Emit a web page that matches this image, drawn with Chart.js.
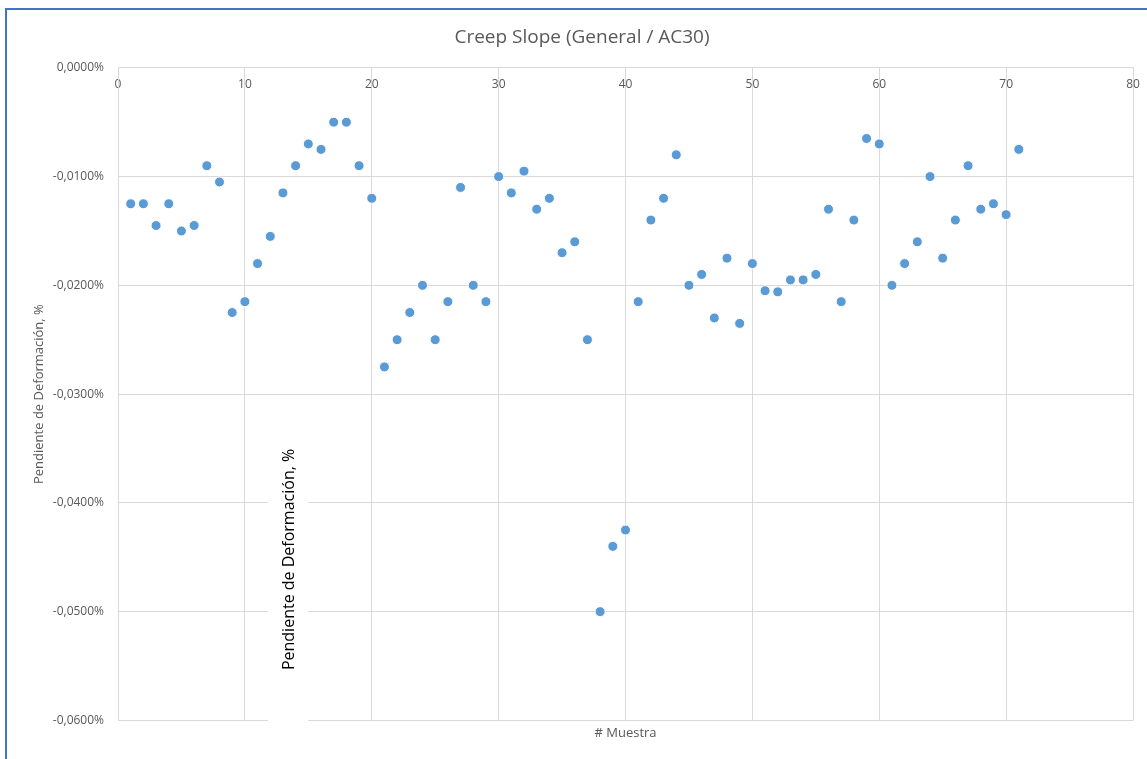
<!DOCTYPE html>
<html lang="es">
<head>
    <meta charset="UTF-8">
    <title>Creep Slope (General / AC30)</title>
    <script src="https://cdn.jsdelivr.net/npm/chart.js"></script>
    <style>
        body {
            margin: 0;
            padding: 0;
            background: #ffffff;
            overflow: hidden;
        }

        .wrap {
            position: relative;
            width: 1147px;
            height: 759px;
        }

        .frame {
            position: absolute;
            left: 5px;
            top: 8px;
            width: 1200px;
            height: 800px;
            border-left: 2px solid #4472c4;
            border-top: 2px solid #4472c4;
            pointer-events: none;
        }
    </style>
</head>
<body>
    <div class="wrap">
        <canvas id="creepChart" width="1147" height="759"></canvas>
        <div class="frame"></div>
    </div>

    <script>
        // # Muestra
        const muestra = [
            1, 2, 3, 4, 5, 6, 7, 8, 9, 10,
            11, 12, 13, 14, 15, 16, 17, 18, 19, 20,
            21, 22, 23, 24, 25, 26, 27, 28, 29, 30,
            31, 32, 33, 34, 35, 36, 37, 38, 39, 40,
            41, 42, 43, 44, 45, 46, 47, 48, 49, 50,
            51, 52, 53, 54, 55, 56, 57, 58, 59, 60,
            61, 62, 63, 64, 65, 66, 67, 68, 69, 70,
            71
        ];

        // Pendiente de Deformación, %
        const pendiente = [
            -0.0125, -0.0125, -0.0145, -0.0125, -0.0150, -0.0145, -0.0090, -0.0105, -0.0225, -0.0215,
            -0.0180, -0.0155, -0.0115, -0.0090, -0.0070, -0.0075, -0.0050, -0.0050, -0.0090, -0.0120,
            -0.0275, -0.0250, -0.0225, -0.0200, -0.0250, -0.0215, -0.0110, -0.0200, -0.0215, -0.0100,
            -0.0115, -0.0095, -0.0130, -0.0120, -0.0170, -0.0160, -0.0250, -0.0500, -0.0440, -0.0425,
            -0.0215, -0.0140, -0.0120, -0.0080, -0.0200, -0.0190, -0.0230, -0.0175, -0.0235, -0.0180,
            -0.0205, -0.0206, -0.0195, -0.0195, -0.0190, -0.0130, -0.0215, -0.0140, -0.0065, -0.0070,
            -0.0200, -0.0180, -0.0160, -0.0100, -0.0175, -0.0140, -0.0090, -0.0130, -0.0125, -0.0135,
            -0.0075
        ];

        const xTicks = [0, 10, 20, 30, 40, 50, 60, 70, 80];
        const yTicks = [0, -0.01, -0.02, -0.03, -0.04, -0.05, -0.06];

        const grey = '#595959';
        const gridColor = '#d9d9d9';
        const fontFamily = "'Open Sans', 'Noto Sans', sans-serif";

        // stray axis-title box that sits over the plot in the original
        const strayLabel = {
            id: 'strayLabel',
            afterDraw(chart) {
                const { ctx, scales, chartArea } = chart;
                const x1 = scales.x.getPixelForValue(11.8);
                const x2 = scales.x.getPixelForValue(15);
                const y1 = scales.y.getPixelForValue(-0.034);
                ctx.save();
                ctx.fillStyle = '#ffffff';
                ctx.fillRect(x1, y1, x2 - x1, chartArea.bottom + 8 - y1);
                ctx.translate(scales.x.getPixelForValue(13.55), scales.y.getPixelForValue(-0.0452));
                ctx.rotate(-Math.PI / 2);
                ctx.fillStyle = '#000000';
                ctx.font = "16px " + fontFamily;
                ctx.textAlign = 'center';
                ctx.textBaseline = 'middle';
                ctx.fillText('Pendiente de Deformación, %', 0, 0);
                ctx.restore();
            }
        };

        const ctx = document.getElementById('creepChart').getContext('2d');
        const chart = new Chart(ctx, {
            type: 'scatter',
            data: {
                datasets: [{
                    label: 'Creep Slope',
                    data: muestra.map((m, i) => ({ x: m, y: pendiente[i] })),
                    backgroundColor: '#5b9bd5',
                    borderColor: '#ffffff',
                    borderWidth: 1,
                    pointRadius: 5,
                    pointHoverRadius: 5
                }]
            },
            options: {
                responsive: false,
                animation: false,
                layout: {
                    padding: { left: 31, right: 14, top: 0, bottom: 0 }
                },
                plugins: {
                    legend: { display: false },
                    tooltip: { enabled: false },
                    title: {
                        display: true,
                        text: 'Creep Slope (General / AC30)',
                        color: grey,
                        font: { family: fontFamily, size: 19, weight: 'normal' },
                        padding: { top: 26, bottom: 19 }
                    }
                },
                scales: {
                    x: {
                        type: 'linear',
                        position: { y: 0 },
                        min: 0,
                        max: 80,
                        afterBuildTicks: scale => {
                            scale.ticks = xTicks.map(v => ({ value: v }));
                        },
                        afterFit: scale => {
                            // let the "80" label overhang like in the original
                            scale.paddingRight = 0;
                            scale.paddingLeft = 0;
                        },
                        grid: { color: gridColor, drawTicks: false },
                        border: { color: gridColor },
                        ticks: {
                            color: grey,
                            padding: 10,
                            font: { family: fontFamily, size: 12 }
                        }
                    },
                    // only carries the bottom title
                    xTitle: {
                        type: 'linear',
                        position: 'bottom',
                        min: 0,
                        max: 80,
                        grid: { display: false, drawTicks: false },
                        border: { display: false },
                        ticks: { display: false },
                        title: {
                            display: true,
                            text: '# Muestra',
                            color: grey,
                            font: { family: fontFamily, size: 13 },
                            padding: { top: 5, bottom: 18 }
                        }
                    },
                    y: {
                        type: 'linear',
                        position: 'left',
                        min: -0.06,
                        max: 0,
                        afterBuildTicks: scale => {
                            scale.ticks = yTicks.map(v => ({ value: v }));
                        },
                        afterFit: scale => {
                            scale.width = 87;
                        },
                        grid: { color: gridColor, drawTicks: false },
                        border: { color: gridColor },
                        ticks: {
                            color: grey,
                            padding: 14,
                            font: { family: fontFamily, size: 12 },
                            callback: v => {
                                const s = Math.abs(v).toFixed(4).replace('.', ',') + '%';
                                return v < -1e-9 ? '-' + s : s;
                            }
                        },
                        title: {
                            display: true,
                            text: 'Pendiente de Deformación, %',
                            color: grey,
                            font: { family: fontFamily, size: 13 },
                            padding: { top: 0, bottom: 0 }
                        }
                    }
                }
            },
            plugins: [strayLabel]
        });
    </script>
</body>
</html>
